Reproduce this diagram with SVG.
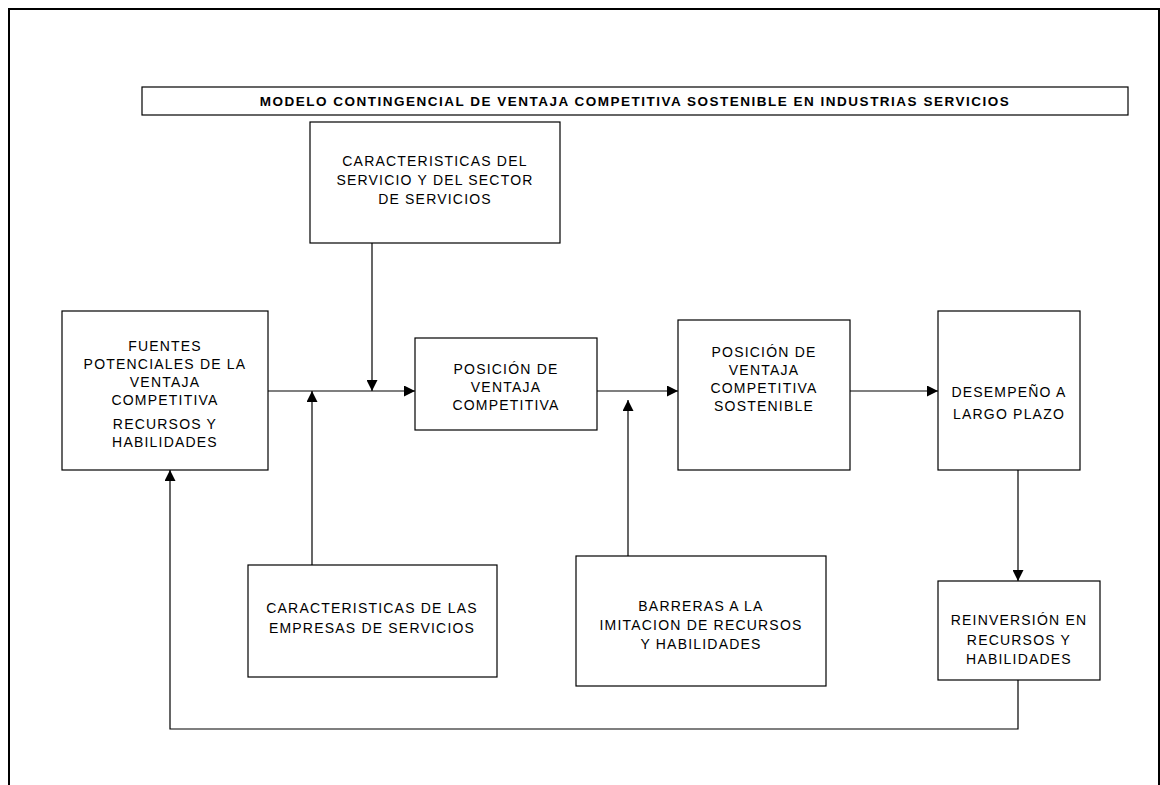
<svg xmlns="http://www.w3.org/2000/svg" width="1160" height="785" viewBox="0 0 1160 785">
  <defs>
    <style>
      .box { fill: #fff; stroke: #000; stroke-width: 1.2; }
      .lbl { font-family: "Liberation Sans", Arial, sans-serif; font-size: 14px; text-anchor: middle; fill: #000; letter-spacing: 1.2px; }
      .title { font-family: "Liberation Sans", Arial, sans-serif; font-size: 13.5px; font-weight: bold; text-anchor: middle; fill: #000; letter-spacing: 1.5px; }
      .wire { fill: none; stroke: #000; stroke-width: 1.2; }
    </style>
    <marker id="arrow" viewBox="0 0 10 10" refX="10" refY="5" markerWidth="11" markerHeight="11" markerUnits="userSpaceOnUse" orient="auto">
      <path d="M0,0 L10,5 L0,10 Z" fill="#000"/>
    </marker>
  </defs>

  <rect width="1160" height="785" fill="#fff"/>

  <!-- page frame (open at the bottom) -->
  <path d="M9,785 V9 H1159 V785" fill="none" stroke="#000" stroke-width="2"/>

  <!-- heading -->
  <g id="title">
    <rect class="box" x="142" y="87" width="986" height="28"/>
    <text class="title" x="635" y="106">MODELO CONTINGENCIAL DE VENTAJA COMPETITIVA SOSTENIBLE EN INDUSTRIAS SERVICIOS</text>
  </g>

  <g id="caract-servicio">
    <rect class="box" x="310" y="122" width="250" height="121"/>
    <text class="lbl" x="435" y="166">CARACTERISTICAS DEL</text>
    <text class="lbl" x="435" y="185">SERVICIO Y DEL SECTOR</text>
    <text class="lbl" x="435" y="204">DE SERVICIOS</text>
  </g>

  <g id="fuentes">
    <rect class="box" x="62" y="311" width="206" height="159"/>
    <text class="lbl" x="165" y="351">FUENTES</text>
    <text class="lbl" x="165" y="369">POTENCIALES DE LA</text>
    <text class="lbl" x="165" y="387">VENTAJA</text>
    <text class="lbl" x="165" y="405">COMPETITIVA</text>
    <text class="lbl" x="165" y="429">RECURSOS Y</text>
    <text class="lbl" x="165" y="447">HABILIDADES</text>
  </g>

  <g id="posicion">
    <rect class="box" x="415" y="338" width="182" height="92"/>
    <text class="lbl" x="506" y="374">POSICIÓN DE</text>
    <text class="lbl" x="506" y="392">VENTAJA</text>
    <text class="lbl" x="506" y="410">COMPETITIVA</text>
  </g>

  <g id="posicion-sostenible">
    <rect class="box" x="678" y="320" width="172" height="150"/>
    <text class="lbl" x="764" y="357">POSICIÓN DE</text>
    <text class="lbl" x="764" y="375">VENTAJA</text>
    <text class="lbl" x="764" y="393">COMPETITIVA</text>
    <text class="lbl" x="764" y="411">SOSTENIBLE</text>
  </g>

  <g id="desempeno">
    <rect class="box" x="938" y="311" width="142" height="159"/>
    <text class="lbl" x="1009" y="397">DESEMPEÑO A</text>
    <text class="lbl" x="1009" y="419">LARGO PLAZO</text>
  </g>

  <g id="caract-empresas">
    <rect class="box" x="248" y="565" width="249" height="112"/>
    <text class="lbl" x="372" y="613">CARACTERISTICAS DE LAS</text>
    <text class="lbl" x="372" y="633">EMPRESAS DE SERVICIOS</text>
  </g>

  <g id="barreras">
    <rect class="box" x="576" y="556" width="250" height="130"/>
    <text class="lbl" x="701" y="611">BARRERAS A LA</text>
    <text class="lbl" x="701" y="630">IMITACION DE RECURSOS</text>
    <text class="lbl" x="701" y="649">Y HABILIDADES</text>
  </g>

  <g id="reinversion">
    <rect class="box" x="938" y="581" width="162" height="99"/>
    <text class="lbl" x="1019" y="625">REINVERSIÓN EN</text>
    <text class="lbl" x="1019" y="645">RECURSOS Y</text>
    <text class="lbl" x="1019" y="664">HABILIDADES</text>
  </g>

  <g id="connectors">
    <path class="wire" d="M268,391 H415" marker-end="url(#arrow)"/>
    <path class="wire" d="M372,243 V391" marker-end="url(#arrow)"/>
    <path class="wire" d="M312,565 V391" marker-end="url(#arrow)"/>
    <path class="wire" d="M597,391 H678" marker-end="url(#arrow)"/>
    <path class="wire" d="M628,556 V400" marker-end="url(#arrow)"/>
    <path class="wire" d="M850,391 H938" marker-end="url(#arrow)"/>
    <path class="wire" d="M1018,470 V581" marker-end="url(#arrow)"/>
    <path class="wire" d="M1018,680 V729 H170 V470" marker-end="url(#arrow)"/>
  </g>
</svg>
